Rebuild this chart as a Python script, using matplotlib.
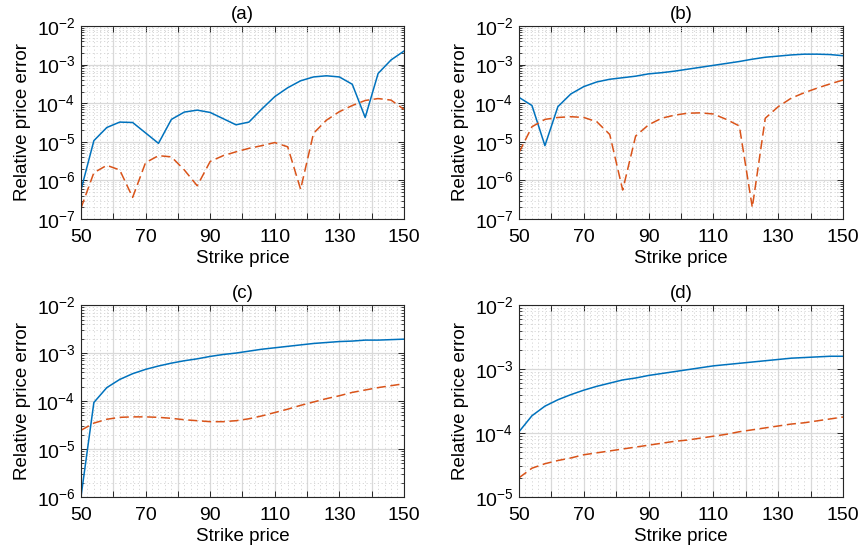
import numpy as np
import matplotlib
matplotlib.use('Agg')
import matplotlib.pyplot as plt
from matplotlib.ticker import MultipleLocator, FuncFormatter, LogLocator, NullFormatter

plt.rcParams['font.family'] = ['Liberation Sans', 'DejaVu Sans']
plt.rcParams['mathtext.fontset'] = 'custom'
plt.rcParams['mathtext.rm'] = 'Liberation Sans'
plt.rcParams['mathtext.it'] = 'Liberation Sans:italic'

# strike prices (step 4)
strike = np.arange(50, 151, 4)

# log10 of relative price error
a_blue = [-6.25, -4.97, -4.63, -4.49, -4.50, -4.77, -5.04, -4.42, -4.23, -4.18, -4.24, -4.40, -4.56,
          -4.49, -4.15, -3.83, -3.60, -3.42, -3.32, -3.29, -3.32, -3.51, -4.37, -3.23, -2.88, -2.65]
a_red = [-6.72, -5.80, -5.61, -5.73, -6.44, -5.54, -5.36, -5.39, -5.73, -6.14, -5.51, -5.36, -5.26,
         -5.17, -5.10, -5.02, -5.13, -6.23, -4.78, -4.44, -4.22, -4.06, -3.93, -3.88, -3.92, -4.16]

b_blue = [-3.85, -4.06, -5.10, -4.09, -3.76, -3.57, -3.45, -3.38, -3.34, -3.30, -3.24, -3.21, -3.17,
          -3.12, -3.07, -3.02, -2.97, -2.92, -2.86, -2.81, -2.78, -2.75, -2.73, -2.73, -2.74, -2.77]
b_red = [-5.28, -4.61, -4.42, -4.37, -4.35, -4.37, -4.48, -4.81, -6.25, -4.85, -4.56, -4.39, -4.31,
         -4.26, -4.25, -4.28, -4.42, -4.59, -6.70, -4.39, -4.09, -3.87, -3.73, -3.61, -3.50, -3.40]

c_blue = [-6.00, -4.03, -3.72, -3.55, -3.43, -3.34, -3.27, -3.21, -3.16, -3.12, -3.07, -3.03, -3.00,
          -2.96, -2.92, -2.89, -2.86, -2.83, -2.80, -2.78, -2.76, -2.75, -2.73, -2.73, -2.72, -2.71]
c_red = [-4.61, -4.46, -4.38, -4.34, -4.33, -4.33, -4.34, -4.36, -4.39, -4.41, -4.43, -4.43, -4.41,
         -4.37, -4.31, -4.24, -4.17, -4.09, -4.02, -3.95, -3.89, -3.82, -3.77, -3.72, -3.68, -3.64]

d_blue = [-3.98, -3.73, -3.58, -3.48, -3.40, -3.33, -3.27, -3.22, -3.17, -3.14, -3.10, -3.07, -3.04,
          -3.01, -2.98, -2.95, -2.93, -2.91, -2.89, -2.87, -2.85, -2.83, -2.82, -2.81, -2.80, -2.80]
d_red = [-4.70, -4.55, -4.48, -4.43, -4.39, -4.34, -4.31, -4.28, -4.25, -4.22, -4.19, -4.16, -4.13,
         -4.11, -4.08, -4.05, -4.02, -3.98, -3.95, -3.92, -3.89, -3.86, -3.84, -3.81, -3.78, -3.75]

panels = [
    ('(a)', a_blue, a_red, (1e-7, 1e-2), [0.0936, 0.604, 0.3734, 0.349]),
    ('(b)', b_blue, b_red, (1e-7, 1e-2), [0.6000, 0.604, 0.3746, 0.349]),
    ('(c)', c_blue, c_red, (1e-6, 1e-2), [0.0936, 0.1013, 0.3734, 0.347]),
    ('(d)', d_blue, d_red, (1e-5, 1e-2), [0.6000, 0.1013, 0.3746, 0.347]),
]

blue = '#0072BD'
red = '#D95319'

fig = plt.figure(figsize=(8.65, 5.53), dpi=100)

for title, yb, yr, ylim, pos in panels:
    ax = fig.add_axes(pos)
    ax.plot(strike, 10.0 ** np.array(yb), color=blue, lw=1.1)
    ax.plot(strike, 10.0 ** np.array(yr), color=red, lw=1.1, linestyle=(0, (6, 3)))
    ax.set_yscale('log')
    ax.set_xlim(50, 150)
    ax.set_ylim(*ylim)

    ax.xaxis.set_major_locator(MultipleLocator(10))
    ax.xaxis.set_minor_locator(MultipleLocator(2))
    ax.xaxis.set_major_formatter(FuncFormatter(
        lambda v, p: '%d' % v if int(round(v - 50)) % 20 == 0 else ''))
    ax.yaxis.set_major_locator(LogLocator(base=10, numticks=10))
    ax.yaxis.set_minor_locator(LogLocator(base=10, subs=np.arange(2, 10), numticks=10))
    ax.yaxis.set_minor_formatter(NullFormatter())

    ax.grid(True, which='major', color='#d9d9d9', lw=0.9, linestyle='-')
    ax.grid(True, which='minor', color='#d2d2d2', lw=0.6, linestyle=(0, (1.5, 3)))
    ax.set_axisbelow(True)

    ax.tick_params(which='both', direction='in', top=True, right=True,
                   labelsize=14, colors='#262626', labelcolor='black')
    ax.tick_params(which='major', length=4, width=0.7)
    ax.tick_params(axis='x', which='major', pad=7)
    ax.tick_params(axis='y', which='major', pad=4)
    ax.tick_params(axis='y', which='minor', length=2, width=0.6)
    ax.tick_params(axis='x', which='minor', length=0)
    for s in ax.spines.values():
        s.set_color('#262626')
        s.set_linewidth(0.8)

    ax.set_title(title, fontsize=13.5, pad=5)
    ax.set_xlabel('Strike price', fontsize=13.5, labelpad=3)
    ax.set_ylabel('Relative price error', fontsize=13.5, labelpad=4)

fig.savefig('out.png', dpi=100)
